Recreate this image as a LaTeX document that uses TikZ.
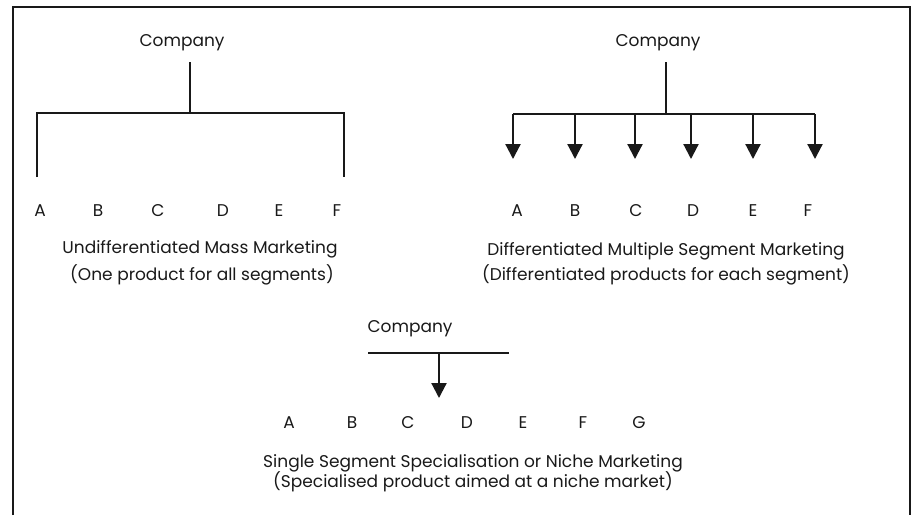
\documentclass[tikz,border=0pt]{standalone}
\usepackage{fontspec}
\setmainfont{Poppins}
\usetikzlibrary{arrows.meta}
\definecolor{ink}{gray}{0.1}
\begin{document}
\begin{tikzpicture}[x=1pt,y=-1pt,
  txt/.style={font=\fontsize{17}{20}\selectfont, text=ink, inner sep=0pt, anchor=base},
  wire/.style={line width=2.2pt, draw=ink},
  tip/.style={wire, -{Triangle[width=15pt,length=15pt]}},
  border/.style={line width=1.8pt, draw=ink}]
\useasboundingbox (0,0) rectangle (912,515);

% open frame (no bottom edge)
\draw[border] (13,515) -- (13,7) -- (910,7) -- (910,515);

% ---------- undifferentiated mass marketing ----------
\node[txt] (c1) at (182,46) {Company};
\coordinate (c1s) at (190,62);
\coordinate (c1j) at (190,113);
\coordinate (c1l) at (37,113);
\coordinate (c1r) at (344,113);
\coordinate (c1lb) at (37,177);
\coordinate (c1rb) at (344,177);
\draw[wire] (c1s) -- (c1j);
\draw[wire] (c1lb) -- (c1l) -- (c1r) -- (c1rb);
\foreach \n/\x in {A/40,B/98,C/158,D/223,E/279,F/337}
  \node[txt] (u\n) at (\x,216) {\n};
\node[txt] (t1a) at (200,253) {Undifferentiated Mass Marketing};
\node[txt] (t1b) at (202,280) {(One product for all segments)};

% ---------- differentiated multiple segment marketing ----------
\node[txt] (c2) at (658,46) {Company};
\coordinate (c2s) at (666,62);
\coordinate (c2j) at (666,114);
\draw[wire] (c2s) -- (c2j);
\draw[wire] (513,114) -- (815,114);
\foreach \n/\x in {A/513,B/575,C/635,D/691,E/753,F/815}{
  \coordinate (d\n top) at (\x,114);
  \coordinate (d\n tip) at (\x,159);
  \draw[tip] (d\n top) -- (d\n tip);
}
\foreach \n/\x in {A/517,B/575,C/636,D/693,E/753,F/808}
  \node[txt] (s\n) at (\x,216) {\n};
\node[txt] (t2a) at (666,255) {Differentiated Multiple Segment Marketing};
\node[txt] (t2b) at (666,280) {(Differentiated products for each segment)};

% ---------- single segment specialisation ----------
\node[txt] (c3) at (410,332) {Company};
\coordinate (c3l) at (368,353);
\coordinate (c3r) at (509,353);
\coordinate (c3j) at (439,353);
\coordinate (c3tip) at (439,398);
\draw[wire] (c3l) -- (c3r);
\draw[tip] (c3j) -- (c3tip);
\foreach \n/\x in {A/289,B/352,C/408,D/467,E/523,F/583,G/639}
  \node[txt] (n\n) at (\x,428) {\n};
\node[txt] (t3a) at (473,467) {Single Segment Specialisation or Niche Marketing};
\node[txt] (t3b) at (473,487) {(Specialised product aimed at a niche market)};
\end{tikzpicture}
\end{document}
